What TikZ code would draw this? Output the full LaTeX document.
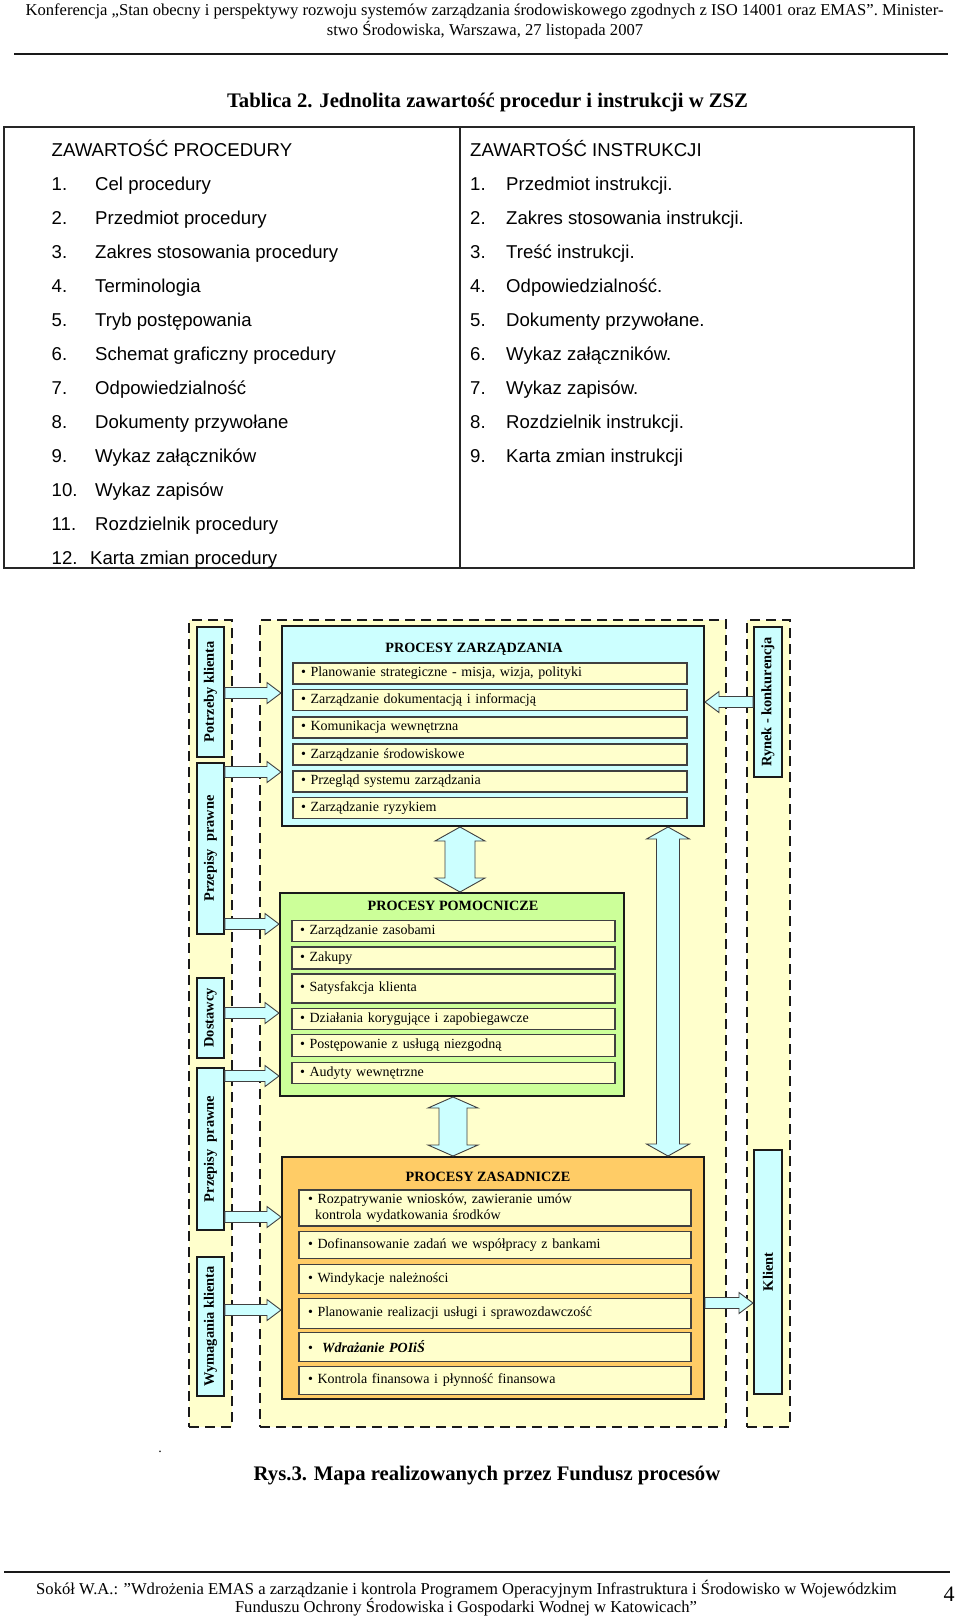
\documentclass[tikz,border=0pt]{standalone}
\usepackage{fontspec}
\setmainfont{Liberation Serif}
\newfontfamily\arialf{Liberation Sans}
\usetikzlibrary{calc}
\definecolor{cyanL}{HTML}{CCFFFF}
\definecolor{ylw}{HTML}{FFFFCC}
\definecolor{grn}{HTML}{CCFF99}
\definecolor{org}{HTML}{FFCC66}
\definecolor{bord}{HTML}{1A1A1A}
\newcommand\boxnode[6][]{\node[#1, anchor=north west, minimum width={#5-#3}, minimum height={#6-#4}] (#2) at (#3,#4) {};}
\newcommand\harr[3]{\draw[fatar] let \p1=(#1),\p2=(#2) in ({\x1},{\y2+5.5pt}) -- ({\x2-(#3)},{\y2+5.5pt}) -- ({\x2-(#3)},{\y2+10.5pt}) -- ({\x2},{\y2}) -- ({\x2-(#3)},{\y2-10.5pt}) -- ({\x2-(#3)},{\y2-5.5pt}) -- ({\x1},{\y2-5.5pt}) -- cycle;}
\newcommand\vdarr[5]{\draw[fatar] let \p1=(#1),\p2=(#2) in ({\x1},{\y1}) -- ({\x1+#4},{\y1-#5}) -- ({\x1+#3},{\y1-#5}) -- ({\x1+#3},{\y2+#5}) -- ({\x1+#4},{\y2+#5}) -- ({\x1},{\y2}) -- ({\x1-#4},{\y2+#5}) -- ({\x1-#3},{\y2+#5}) -- ({\x1-#3},{\y1-#5}) -- ({\x1-#4},{\y1-#5}) -- cycle;}
\tikzset{
  dbox/.style={draw=bord, line width=2pt, dash pattern=on 10pt off 6pt, fill=ylw, inner sep=0pt},
  sidebox/.style={draw=bord, line width=1.8pt, fill=cyanL, inner sep=0pt},
  sidelab/.style={rotate=90, font=\fontsize{14.4}{15}\selectfont\bfseries, inner sep=0pt},
  bigbox/.style={draw=bord, line width=2pt, inner sep=0pt},
  itembox/.style={draw=black!75, line width=1.1pt, fill=ylw, inner xsep=8pt, inner ysep=0pt, align=left, font=\fontsize{14}{16}\selectfont},
  zitem/.style={itembox, text width=378pt, minimum height=21pt},
  pitem/.style={itembox, text width=307pt, minimum height=21pt},
  sitem/.style={itembox, inner xsep=9pt, text width=374pt, minimum height=28pt},
  ptitle/.style={font=\fontsize{14.2}{16}\selectfont\bfseries},
  fatar/.style={draw=black!75, line width=0.9pt, fill=cyanL, line join=miter},
  tabtxt/.style={font=\arialf\fontsize{18.6}{20}\selectfont, inner sep=0pt, anchor=base west},
  rule/.style={line width=1.6pt, draw=black!90},
}
\begin{document}
\begin{tikzpicture}[x=1pt,y=-1pt]
\useasboundingbox (0,0) rectangle (960,1617);
% header
\node[font=\fontsize{16.6}{18}\selectfont, inner sep=0pt] (h1) at (484.5,11) {Konferencja „Stan obecny i perspektywy rozwoju systemów zarządzania środowiskowego zgodnych z ISO 14001 oraz EMAS”. Minister-};
\node[font=\fontsize{16.6}{18}\selectfont, inner sep=0pt] (h2) at (485,30) {stwo Środowiska, Warszawa, 27 listopada 2007};
\draw[rule] (14,54) coordinate (hrA) -- (948,54) coordinate (hrB);
% title
\node[font=\fontsize{20.7}{22}\selectfont\bfseries, inner sep=0pt] (title) at (487.5,103) {Tablica 2. Jednolita zawartość procedur i instrukcji w ZSZ};
% table
\draw[line width=1.5pt, draw=black!85] (4,127) rectangle (914,568);
\draw[line width=1.5pt, draw=black!85] (460,127) -- (460,568);
\node[tabtxt] (lh) at (51.5,156) {ZAWARTOŚĆ PROCEDURY};
\node[tabtxt] (rh) at (470,156) {ZAWARTOŚĆ INSTRUKCJI};
\foreach \n/\t [count=\i] in {1./Cel procedury, 2./Przedmiot procedury, 3./Zakres stosowania procedury, 4./Terminologia, 5./Tryb postępowania, 6./Schemat graficzny procedury, 7./Odpowiedzialność, 8./Dokumenty przywołane, 9./Wykaz załączników, 10./Wykaz zapisów, 11./Rozdzielnik procedury} {
  \node[tabtxt] (ln\i) at (51.5,{156+34*\i}) {\n};
  \node[tabtxt] (lt\i) at (95,{156+34*\i}) {\t};
}
\node[tabtxt] (ln12) at (51.5,564) {12.};
\node[tabtxt] (lt12) at (90,564) {Karta zmian procedury};
\foreach \n/\t [count=\i] in {1./Przedmiot instrukcji., 2./Zakres stosowania instrukcji., 3./Treść instrukcji., 4./Odpowiedzialność., 5./Dokumenty przywołane., 6./Wykaz załączników., 7./Wykaz zapisów., 8./Rozdzielnik instrukcji., 9./Karta zmian instrukcji} {
  \node[tabtxt] (rn\i) at (470,{156+34*\i}) {\n};
  \node[tabtxt] (rt\i) at (506,{156+34*\i}) {\t};
}
% dashed frames
\boxnode[dbox]{fl}{188}{619}{231}{1426}
\boxnode[dbox]{fm}{259}{619}{725}{1426}
\boxnode[dbox]{fr}{746}{619}{789}{1426}
% big boxes
\boxnode[bigbox, fill=cyanL]{zarz}{281}{625}{703}{825}
\boxnode[bigbox, fill=grn]{pomoc}{279}{892}{623}{1095}
\boxnode[bigbox, fill=org]{zasad}{281}{1156}{703}{1398}
\node[ptitle] (zt) at (474,649) {PROCESY ZARZĄDZANIA};
\node[ptitle] (pt) at (453,906) {PROCESY POMOCNICZE};
\node[ptitle] (st) at (488,1177) {PROCESY ZASADNICZE};
% ZARZ items
\node[zitem] (z1) at (490,673.5) {\textbullet\ Planowanie strategiczne - misja, wizja, polityki};
\node[zitem] (z2) at (490,700) {\textbullet\ Zarządzanie dokumentacją i informacją};
\node[zitem] (z3) at (490,727.5) {\textbullet\ Komunikacja wewnętrzna};
\node[zitem] (z4) at (490,754.5) {\textbullet\ Zarządzanie środowiskowe};
\node[zitem] (z5) at (490,781.5) {\textbullet\ Przegląd systemu zarządzania};
\node[zitem] (z6) at (490,808) {\textbullet\ Zarządzanie ryzykiem};
% POMOC items
\node[pitem] (p1) at (453.5,931) {\textbullet\ Zarządzanie zasobami};
\node[pitem, minimum height=22pt] (p2) at (453.5,958) {\textbullet\ Zakupy};
\node[pitem, minimum height=29pt] (p3) at (453.5,988.5) {\textbullet\ Satysfakcja klienta};
\node[pitem] (p4) at (453.5,1019) {\textbullet\ Działania korygujące i zapobiegawcze};
\node[pitem, minimum height=22pt] (p5) at (453.5,1045.5) {\textbullet\ Postępowanie z usługą niezgodną};
\node[pitem] (p6) at (453.5,1073) {\textbullet\ Audyty wewnętrzne};
% ZASAD items
\node[sitem, minimum height=36pt] (s1) at (495,1208) {\textbullet\ Rozpatrywanie wniosków, zawieranie umów\\\hspace*{7pt}kontrola wydatkowania środków};
\node[sitem, minimum height=27pt] (s2) at (495,1245) {\textbullet\ Dofinansowanie zadań we współpracy z bankami};
\node[sitem, minimum height=29pt] (s3) at (495,1279) {\textbullet\ Windykacje należności};
\node[sitem, minimum height=30pt] (s4) at (495,1313.5) {\textbullet\ Planowanie realizacji usługi i sprawozdawczość};
\node[sitem, minimum height=29pt] (s5) at (495,1347) {\textbullet\ \ \textbf{\textit{Wdrażanie POIiŚ}}};
\node[sitem, minimum height=28pt] (s6) at (495,1380.5) {\textbullet\ Kontrola finansowa i płynność finansowa};
% side boxes
\boxnode[sidebox]{pk}{196}{626}{223}{756}
\boxnode[sidebox]{pp1}{196}{762}{223}{933}
\boxnode[sidebox]{dos}{196}{977}{223}{1057}
\boxnode[sidebox]{pp2}{196}{1067}{223}{1229}
\boxnode[sidebox]{wk}{196}{1256}{223}{1395}
\boxnode[sidebox]{rk}{753}{626}{781}{776}
\boxnode[sidebox]{kl}{753}{1149}{781}{1393}
\node[sidelab] (pkl) at (pk.center) {Potrzeby klienta};
\node[sidelab] (pp1l) at (pp1.center) {Przepisy~ prawne};
\node[sidelab] (dosl) at (dos.center) {Dostawcy};
\node[sidelab] (pp2l) at (pp2.center) {Przepisy~ prawne};
\node[sidelab] (wkl) at (wk.center) {Wymagania klienta};
\node[sidelab] (rkl) at (rk.center) {Rynek - konkurencja};
\node[sidelab] (kll) at (kl.center) {Klient};
% arrow levels
\coordinate (a1) at (0,693);
\coordinate (a2) at (0,772);
\coordinate (a3) at (0,924);
\coordinate (a4) at (0,1013);
\coordinate (a5) at (0,1076);
\coordinate (a6) at (0,1217);
\coordinate (a7) at (0,1310);
\coordinate (a8) at (0,702);
\coordinate (a9) at (0,1303);
\harr{pk.east}{zarz.west |- a1}{14pt}
\harr{pp1.east}{zarz.west |- a2}{14pt}
\harr{pp1.east}{pomoc.west |- a3}{14pt}
\harr{dos.east}{pomoc.west |- a4}{14pt}
\harr{pp2.east}{pomoc.west |- a5}{14pt}
\harr{pp2.east}{zasad.west |- a6}{14pt}
\harr{wk.east}{zasad.west |- a7}{14pt}
\harr{rk.west}{zarz.east |- a8}{-14pt}
\harr{zasad.east}{kl.west |- a9}{14pt}
% vertical double arrows
\coordinate (c1) at (460,0);
\coordinate (c2) at (453,0);
\coordinate (c3) at (668,0);
\vdarr{zarz.south -| c1}{pomoc.north -| c1}{15pt}{25pt}{14pt}
\vdarr{pomoc.south -| c2}{zasad.north -| c2}{14pt}{25pt}{11pt}
\vdarr{zarz.south -| c3}{zasad.north -| c3}{11.5pt}{21.5pt}{12pt}
% caption
\node[font=\fontsize{14}{14}\selectfont, inner sep=0pt] (dot) at (160,1452) {.};
\node[font=\fontsize{20.7}{22}\selectfont\bfseries, inner sep=0pt] (cap) at (487,1476) {Rys.3. Mapa realizowanych przez Fundusz procesów};
% footer
\draw[rule] (4,1572) coordinate (frA) -- (950,1572) coordinate (frB);
\node[font=\fontsize{16.6}{18}\selectfont, inner sep=0pt] (f1) at (466.5,1589) {Sokół W.A.: ”Wdrożenia EMAS a zarządzanie i kontrola Programem Operacyjnym Infrastruktura i Środowisko w Wojewódzkim};
\node[font=\fontsize{16.6}{18}\selectfont, inner sep=0pt] (f2) at (466,1607) {Funduszu Ochrony Środowiska i Gospodarki Wodnej w Katowicach”};
\node[font=\fontsize{22}{24}\selectfont, inner sep=0pt] (pg) at (949,1594) {4};
\end{tikzpicture}
\end{document}
